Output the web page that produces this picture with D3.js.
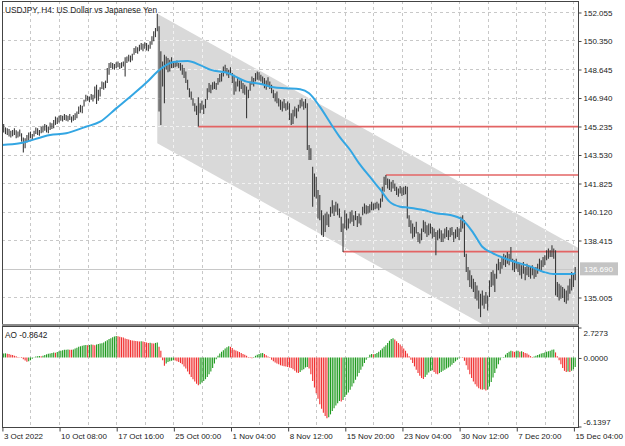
<!DOCTYPE html>
<html>
<head>
<meta charset="utf-8">
<script src="https://cdn.jsdelivr.net/npm/d3@7"></script>
<style>
  body { margin: 0; background: #fff; }
  svg { display: block; font-family: "Liberation Sans", Arial, sans-serif; font-size: 8px; }
</style>
</head>
<body>
<div class="chart"></div>
<script>
// ============================================================================
// Data
// ============================================================================

var title = 'USDJPY, H4:  US Dollar vs Japanese Yen';

// H4 bars, 3 Oct 2022 00:00 .. 15 Dec 2022 08:00
var highs = [
  145.30,145.35,145.15,145.10,145.05,144.95,145.00,145.10,144.98,144.90,
  145.02,144.80,144.55,144.50,144.70,144.85,144.90,144.75,144.95,145.15,
  145.10,145.00,145.20,145.25,145.35,145.30,145.20,145.45,145.40,145.60,
  145.80,145.75,145.85,145.90,145.85,145.95,145.90,145.85,145.95,145.80,
  145.90,146.00,146.10,146.40,146.50,146.45,146.80,147.10,147.05,147.00,
  147.15,147.10,147.60,147.70,147.40,147.55,147.90,147.85,147.95,148.70,
  149.00,149.05,149.00,148.95,149.05,149.10,149.00,149.05,149.10,149.35,
  149.40,149.50,149.45,149.55,149.90,150.00,149.95,150.10,150.20,150.15,
  150.25,150.20,150.10,150.30,150.60,150.90,151.10,151.95,151.20,149.70,
  149.10,149.50,149.40,149.30,149.20,149.35,149.10,149.05,149.15,149.00,
  149.00,148.90,148.70,148.50,148.00,147.50,147.30,146.90,146.60,146.45,
  146.95,146.60,146.75,146.50,146.85,147.50,147.80,147.70,147.85,147.90,
  147.80,148.10,148.35,148.40,148.80,148.90,148.70,148.60,148.75,148.40,
  148.30,147.90,148.10,147.95,148.05,147.80,147.70,147.60,147.40,147.90,
  148.20,148.10,148.40,148.50,148.45,148.30,148.20,148.10,147.95,148.15,
  147.90,147.70,147.40,147.20,147.30,146.90,146.80,146.70,146.85,146.60,
  146.70,146.60,146.00,146.20,146.40,146.30,146.50,146.80,146.90,146.70,
  146.85,146.60,144.10,143.90,142.80,142.40,142.20,141.40,141.10,140.20,
  139.90,140.00,140.10,139.95,140.40,140.80,140.50,140.70,140.60,140.30,
  139.80,139.40,140.20,140.00,139.70,140.10,140.20,139.90,140.15,139.85,
  140.00,139.80,140.40,140.60,140.50,140.45,140.55,140.70,140.60,140.65,
  140.70,140.60,140.90,141.60,142.20,142.30,142.10,142.05,141.90,142.00,
  141.80,141.60,141.50,141.65,141.55,141.60,141.65,141.60,139.90,139.60,
  139.40,139.20,139.50,138.90,138.80,139.10,139.60,139.50,139.30,139.40,
  139.40,139.20,139.10,138.90,139.00,139.10,139.00,138.80,139.10,139.20,
  139.00,139.15,139.20,138.90,139.05,139.20,139.10,139.80,139.90,139.60,
  137.60,136.80,136.60,136.30,136.10,135.90,135.70,135.40,135.20,135.40,
  135.10,135.30,135.10,136.00,136.50,136.60,136.40,137.00,137.30,137.10,
  137.40,137.60,137.50,137.70,137.60,138.00,137.30,137.20,137.30,137.10,
  137.00,136.90,137.10,136.80,137.00,136.90,136.80,136.90,136.70,136.80,
  137.00,137.30,137.20,137.40,137.50,137.80,137.90,137.80,138.10,137.90,
  137.80,135.90,135.80,135.70,135.60,135.50,135.40,135.70,136.10,136.50,136.40,136.80
];

var lows = [
  144.95,144.85,144.75,144.70,144.60,144.55,144.62,144.70,144.50,144.55,
  144.60,144.30,143.65,143.90,144.25,144.35,144.50,144.40,144.60,144.75,
  144.70,144.65,144.80,144.85,144.95,144.85,144.80,145.00,145.05,145.10,
  145.30,145.35,145.45,145.55,145.50,145.60,145.55,145.50,145.60,145.45,
  145.55,145.60,145.70,145.95,146.05,146.00,146.40,146.70,146.75,146.65,
  146.80,146.70,146.90,146.55,146.75,147.00,147.45,147.40,147.50,147.80,
  148.30,148.70,148.65,148.60,148.70,148.75,148.65,148.70,148.80,148.20,
  149.00,149.10,149.05,149.15,149.50,149.60,149.55,149.70,149.80,149.70,
  149.85,149.75,149.70,149.85,150.10,150.30,150.55,150.90,146.10,145.30,
  147.60,146.60,148.60,148.45,148.50,148.70,148.70,148.75,148.80,148.70,
  148.55,148.30,148.10,147.80,147.40,146.95,146.80,146.45,146.10,145.90,
  145.20,146.00,146.20,145.95,146.30,146.80,147.25,147.20,147.40,147.45,
  147.40,147.70,147.85,147.90,148.20,148.40,148.25,148.10,148.30,147.80,
  147.10,147.30,147.60,147.30,147.45,147.20,147.10,145.70,146.90,147.35,
  147.70,147.60,147.90,148.00,147.95,147.90,147.75,147.50,147.40,147.60,
  147.45,147.20,146.90,146.70,146.60,146.40,146.20,146.10,146.30,146.15,
  146.20,145.60,145.30,145.35,145.80,145.70,146.10,146.30,146.40,146.20,
  146.30,143.80,143.20,143.20,140.40,141.00,140.90,139.70,139.60,138.70,
  138.60,138.90,139.30,139.20,139.80,140.00,139.85,140.10,139.90,139.75,
  138.90,137.70,139.10,139.00,139.10,139.40,139.50,139.25,139.60,139.20,
  139.40,139.30,139.90,140.00,139.95,140.00,140.05,140.20,140.20,140.25,
  140.30,140.20,140.35,140.70,141.30,141.70,141.50,141.40,141.30,141.50,
  141.35,141.10,141.00,141.20,141.05,141.10,141.15,139.70,139.20,138.80,
  138.50,138.60,138.80,138.30,138.20,138.40,138.90,138.80,138.60,138.70,
  138.80,138.50,138.60,137.50,138.40,138.50,138.30,138.30,138.50,138.60,
  138.40,138.60,138.70,138.30,138.50,138.60,138.40,138.90,139.10,137.40,
  136.50,136.00,135.60,135.50,135.30,134.90,134.80,134.30,133.80,134.50,
  134.30,134.60,134.20,135.00,135.60,135.70,135.30,136.10,136.60,136.40,
  136.70,136.90,136.80,137.00,136.90,137.20,136.60,136.50,136.70,136.50,
  136.30,136.10,136.40,136.00,136.30,136.20,136.10,136.30,136.10,136.20,
  136.40,136.60,136.50,136.80,136.90,137.20,137.30,137.40,137.40,137.30,
  135.10,135.00,134.80,134.90,134.95,134.70,134.60,134.80,135.20,135.40,135.60,136.00
];

var lastPrice = 136.690;

// Moving average (bar index, value)
var maBars = [0, 10, 27, 36, 47, 55, 64, 73, 82, 87, 96, 104, 111, 117, 126, 137, 145, 152, 159, 167,
  172, 178, 184, 189, 195, 200, 206, 212, 217, 223, 228, 236, 243, 251, 258, 264, 269, 275, 284, 296,
  303, 309, 320, 321];
var maValues = [144.10, 144.20, 144.70, 144.80, 145.19, 145.49, 146.29, 147.09, 147.94, 148.48, 149.06,
  149.12, 148.88, 148.59, 148.42, 147.89, 147.75, 147.55, 147.49, 147.43, 147.19, 146.39, 145.40, 144.60,
  143.80, 143.00, 142.20, 141.41, 140.71, 140.41, 140.35, 140.21, 140.01, 139.91, 139.61, 138.83, 138.01,
  137.62, 137.22, 136.82, 136.52, 136.38, 136.38, 136.46];

// Regression channel (bar index, upper, lower)
var channelBars = [87, 330];
var channelUpper = [151.95, 137.51];
var channelLower = [144.20, 129.76];

// Horizontal levels (start bar, price)
var levelBars = [110, 215, 191];
var levelPrices = [145.20, 142.30, 137.72];

// Awesome Oscillator
var aoValues = [
  0.30,0.35,0.37,0.33,0.30,0.25,0.22,0.15,0.10,0.05,
  0.02,-0.05,-0.15,-0.28,-0.38,-0.35,-0.25,-0.12,0.02,0.08,
  0.10,0.12,0.10,0.15,0.22,0.28,0.33,0.35,0.40,0.45,
  0.42,0.48,0.55,0.60,0.65,0.68,0.70,0.72,0.70,0.68,
  0.72,0.80,0.88,0.95,1.00,1.05,1.10,1.12,1.10,1.12,
  1.15,1.13,1.10,1.15,1.20,1.25,1.28,1.35,1.45,1.55,
  1.65,1.72,1.80,1.88,1.92,1.90,1.85,1.82,1.78,1.70,
  1.65,1.60,1.55,1.52,1.50,1.48,1.45,1.43,1.45,1.42,
  1.38,1.35,1.30,1.32,1.28,1.25,1.30,1.35,0.95,0.60,
  -0.25,-0.75,-0.55,-0.40,-0.35,-0.30,-0.25,-0.28,-0.35,-0.40,
  -0.50,-0.62,-0.80,-1.00,-1.25,-1.50,-1.75,-1.95,-2.15,-2.35,
  -2.50,-2.40,-2.25,-2.10,-1.95,-1.75,-1.50,-1.25,-0.95,-0.55,
  -0.15,0.15,0.35,0.50,0.65,0.80,0.92,1.00,0.95,0.85,
  0.70,0.62,0.55,0.48,0.40,0.32,0.25,0.15,0.05,-0.05,
  -0.08,0.05,0.15,0.25,0.32,0.38,0.40,0.30,0.20,0.08,
  -0.05,-0.20,-0.35,-0.45,-0.55,-0.62,-0.70,-0.75,-0.78,-0.82,
  -0.85,-0.90,-0.95,-1.05,-1.20,-1.35,-1.40,-1.30,-1.15,-1.05,
  -0.90,-0.85,-1.00,-1.50,-2.10,-2.70,-3.20,-3.70,-4.20,-4.60,
  -4.95,-5.25,-5.45,-5.35,-5.10,-4.80,-4.55,-4.30,-4.10,-3.90,
  -3.95,-3.80,-3.55,-3.35,-3.15,-2.90,-2.60,-2.30,-2.00,-1.70,
  -1.40,-1.10,-0.80,-0.50,-0.20,0.05,0.25,0.30,0.28,0.32,
  0.40,0.50,0.65,0.80,0.95,1.10,1.30,1.50,1.65,1.72,
  1.60,1.45,1.30,1.15,1.00,0.80,0.60,0.35,0.10,-0.20,
  -0.50,-0.80,-1.10,-1.40,-1.65,-1.85,-1.92,-1.75,-1.55,-1.35,
  -1.20,-1.15,-1.30,-1.45,-1.50,-1.40,-1.30,-1.20,-1.10,-1.00,
  -0.90,-0.80,-0.65,-0.50,-0.35,-0.20,-0.08,0.02,-0.05,-0.30,
  -0.70,-1.10,-1.50,-1.85,-2.15,-2.40,-2.60,-2.75,-2.85,-2.90,
  -2.85,-2.95,-2.90,-2.60,-2.20,-1.80,-1.40,-1.00,-0.60,-0.25,
  0.02,0.05,0.25,0.40,0.50,0.60,0.55,0.50,0.55,0.60,
  0.52,0.55,0.48,0.40,0.35,0.25,0.12,0.05,0.08,0.15,
  0.22,0.28,0.35,0.40,0.45,0.50,0.55,0.60,0.68,0.72,
  0.45,0.10,-0.25,-0.60,-0.95,-1.20,-1.30,-1.25,-1.30,-1.20,-1.05,-0.8642
];

// Axis ticks
var priceTicks = [152.055, 150.350, 148.645, 146.940, 145.235, 143.530, 141.825, 140.120, 138.415, 135.005];
var aoTicks = [2.7273, 0, -6.1397];
var timeBars = [0, 32, 64, 96, 128, 160, 192, 224, 256, 288, 320];
var timeLabels = ['3 Oct 2022', '10 Oct 08:00', '17 Oct 16:00', '25 Oct 00:00', '1 Nov 04:00',
  '8 Nov 12:00', '15 Nov 20:00', '23 Nov 04:00', '30 Nov 12:00', '7 Dec 20:00', '15 Dec 04:00'];

// ============================================================================
// Create SVG
// ============================================================================

var svgWidth = 625;
var svgHeight = 446;

var plotLeft = 2, plotRight = 578;
var mainTop = 1, mainBottom = 324;
var subTop = 326, subBottom = 427;

var svg = d3.select('.chart')
  .append('svg')
  .attr('width', svgWidth)
  .attr('height', svgHeight);

var xScale = d3.scaleLinear().domain([0, 320]).range([1.9, 573.4]);
var yScale = d3.scaleLinear().domain([133.39, 152.713]).range([mainBottom, mainTop]);
var aoScale = d3.scaleLinear().domain([-6.1397, 2.7273]).range([426, 327]);

var defs = svg.append('defs');
defs.append('clipPath').attr('id', 'clipMain')
  .append('rect')
  .attr('x', plotLeft).attr('y', mainTop)
  .attr('width', plotRight - plotLeft).attr('height', mainBottom - mainTop);
defs.append('clipPath').attr('id', 'clipSub')
  .append('rect')
  .attr('x', plotLeft).attr('y', subTop)
  .attr('width', plotRight - plotLeft).attr('height', subBottom - subTop);

var gridBars = d3.range(16, 321, 16);

// channel polygon in data space
var channelPts = [
  [channelBars[0], channelUpper[0]],
  [channelBars[1], channelUpper[1]],
  [channelBars[1], channelLower[1]],
  [channelBars[0], channelLower[0]]
];
var channelPath = 'M' + channelPts.map(p => xScale(p[0]) + ',' + yScale(p[1])).join('L') + 'Z';
defs.append('clipPath').attr('id', 'clipChannel')
  .append('path').attr('d', channelPath);

// ============================================================================
// Main panel
// ============================================================================

var main = svg.append('g').attr('clip-path', 'url(#clipMain)');

function drawGrid(g, color) {
  g.selectAll('.vgrid')
    .data(gridBars)
    .enter()
      .append('line')
      .attr('x1', d => Math.round(xScale(d)) + 0.5)
      .attr('x2', d => Math.round(xScale(d)) + 0.5)
      .attr('y1', mainTop)
      .attr('y2', mainBottom)
      .attr('stroke', color)
      .attr('stroke-dasharray', '3,3');
  g.selectAll('.hgrid')
    .data(priceTicks)
    .enter()
      .append('line')
      .attr('x1', plotLeft)
      .attr('x2', plotRight)
      .attr('y1', d => Math.round(yScale(d)) + 0.5)
      .attr('y2', d => Math.round(yScale(d)) + 0.5)
      .attr('stroke', color)
      .attr('stroke-dasharray', '3,3');
}

drawGrid(main.append('g'), '#c8c8c8');

main.append('path')
  .attr('d', channelPath)
  .attr('fill', '#d9d9d9');

drawGrid(main.append('g').attr('clip-path', 'url(#clipChannel)'), '#f2f2f2');

// current price line
main.append('line')
  .attr('x1', plotLeft).attr('x2', plotRight)
  .attr('y1', Math.round(yScale(lastPrice)) + 0.5)
  .attr('y2', Math.round(yScale(lastPrice)) + 0.5)
  .attr('stroke', '#c8c8c8');

// horizontal levels
main.selectAll('.level')
  .data(levelBars)
  .enter()
    .append('line')
    .attr('x1', d => xScale(d))
    .attr('x2', plotRight)
    .attr('y1', (d, i) => yScale(levelPrices[i]))
    .attr('y2', (d, i) => yScale(levelPrices[i]))
    .attr('stroke', '#e36464')
    .attr('stroke-width', 1.6);

// bars
main.selectAll('.bar')
  .data(highs)
  .enter()
    .append('line')
    .attr('x1', (d, i) => xScale(i))
    .attr('x2', (d, i) => xScale(i))
    .attr('y1', d => yScale(d))
    .attr('y2', (d, i) => yScale(lows[i]))
    .attr('stroke', '#3a3a3a')
    .attr('stroke-width', 1.1);

// moving average
var maLine = d3.line()
  .x((d, i) => xScale(maBars[i]))
  .y(d => yScale(d))
  .curve(d3.curveMonotoneX);

main.append('path')
  .attr('d', maLine(maValues))
  .attr('fill', 'none')
  .attr('stroke', '#33a6e3')
  .attr('stroke-width', 2);

// ============================================================================
// AO panel
// ============================================================================

var sub = svg.append('g').attr('clip-path', 'url(#clipSub)');

sub.selectAll('.vgrid')
  .data(gridBars)
  .enter()
    .append('line')
    .attr('x1', d => Math.round(xScale(d)) + 0.5)
    .attr('x2', d => Math.round(xScale(d)) + 0.5)
    .attr('y1', subTop)
    .attr('y2', subBottom)
    .attr('stroke', '#c8c8c8')
    .attr('stroke-dasharray', '3,3');

sub.selectAll('.ao')
  .data(aoValues)
  .enter()
    .append('line')
    .attr('x1', (d, i) => xScale(i))
    .attr('x2', (d, i) => xScale(i))
    .attr('y1', aoScale(0))
    .attr('y2', d => aoScale(d))
    .attr('stroke', (d, i) => (i > 0 && d < aoValues[i - 1]) ? '#f03030' : '#1f9a1f')
    .attr('stroke-width', 1.1);

// ============================================================================
// Frames and axes
// ============================================================================

svg.append('rect')
  .attr('x', plotLeft + 0.5).attr('y', mainTop + 0.5)
  .attr('width', plotRight - plotLeft).attr('height', mainBottom - mainTop)
  .attr('fill', 'none').attr('stroke', '#444');

svg.append('rect')
  .attr('x', plotLeft).attr('y', mainBottom)
  .attr('width', plotRight - plotLeft + 1).attr('height', subTop - mainBottom)
  .attr('fill', '#8a8a8a');

svg.append('rect')
  .attr('x', plotLeft + 0.5).attr('y', subTop + 0.5)
  .attr('width', plotRight - plotLeft).attr('height', subBottom - subTop)
  .attr('fill', 'none').attr('stroke', '#444');

// price axis
var priceAxis = svg.append('g')
  .attr('transform', `translate(${plotRight + 0.5}, 0.5)`)
  .call(d3.axisRight(yScale)
    .tickValues(priceTicks)
    .tickSize(3)
    .tickSizeOuter(0)
    .tickFormat(d => d.toFixed(3)));
priceAxis.select('.domain').remove();
priceAxis.selectAll('line').attr('stroke', '#444');
priceAxis.selectAll('text')
  .attr('x', 5)
  .attr('fill', '#222')
  .style('font-size', '8px')
  .style('font-family', '"Liberation Sans", Arial, sans-serif');

// current price label
var lastY = yScale(lastPrice);
svg.append('rect')
  .attr('x', plotRight + 2).attr('y', lastY - 6.5)
  .attr('width', 38).attr('height', 13)
  .attr('fill', '#c4c4c4');
svg.append('text')
  .attr('x', plotRight + 6).attr('y', lastY + 3)
  .attr('fill', '#fff')
  .text(lastPrice.toFixed(3));

// AO axis
var aoAxis = svg.append('g')
  .attr('transform', `translate(${plotRight + 0.5}, 0.5)`)
  .call(d3.axisRight(aoScale)
    .tickValues(aoTicks)
    .tickSize(3)
    .tickSizeOuter(0)
    .tickFormat(d => d.toFixed(4)));
aoAxis.select('.domain').remove();
aoAxis.selectAll('line').attr('stroke', '#444');
aoAxis.selectAll('text')
  .attr('x', 5)
  .attr('fill', '#222')
  .attr('dy', (d, i) => i === 0 ? '0.95em' : (i === aoTicks.length - 1 ? '-0.2em' : '0.32em'))
  .style('font-size', '8px')
  .style('font-family', '"Liberation Sans", Arial, sans-serif');

// time axis
var timeAxis = svg.append('g')
  .attr('transform', `translate(0.5, ${subBottom + 0.5})`)
  .call(d3.axisBottom(xScale)
    .tickValues(timeBars)
    .tickSize(4)
    .tickSizeOuter(0)
    .tickFormat((d, i) => timeLabels[i]));
timeAxis.select('.domain').remove();
timeAxis.selectAll('line').attr('stroke', '#444');
timeAxis.selectAll('text')
  .attr('text-anchor', 'start')
  .attr('x', 1)
  .attr('y', 6)
  .attr('fill', '#222')
  .style('font-size', '8px')
  .style('font-family', '"Liberation Sans", Arial, sans-serif');

// labels
svg.append('text')
  .attr('x', 5).attr('y', 13)
  .attr('fill', '#222')
  .style('font-size', '8.3px')
  .text(title);

svg.append('text')
  .attr('x', 5).attr('y', 338)
  .attr('fill', '#222')
  .style('font-size', '8.3px')
  .text('AO ' + aoValues[aoValues.length - 1].toFixed(4));
</script>
</body>
</html>
